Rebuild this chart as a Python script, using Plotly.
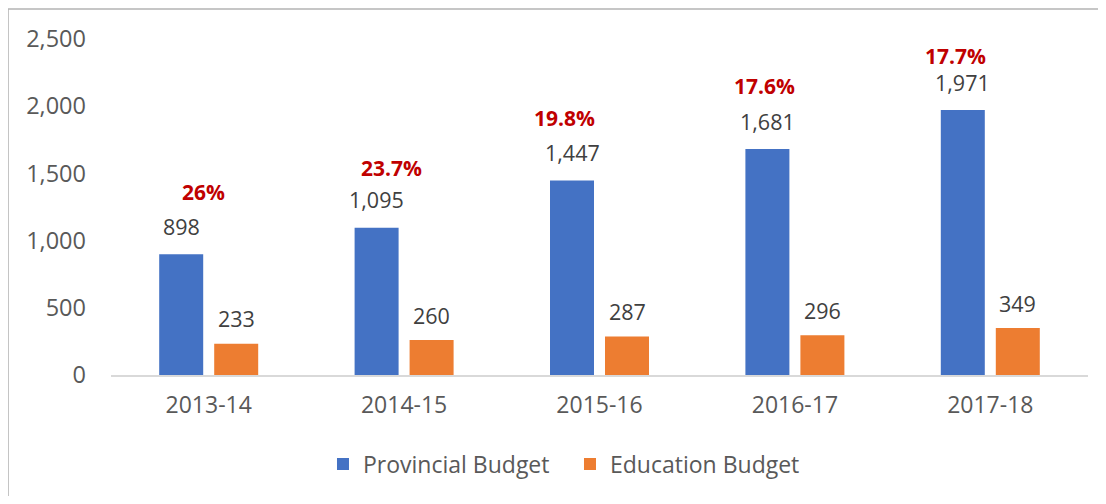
import plotly.graph_objects as go

years = ["2013-14", "2014-15", "2015-16", "2016-17", "2017-18"]
provincial = [898, 1095, 1447, 1681, 1971]
education = [233, 260, 287, 296, 349]
share_labels = ["26%", "23.7%", "19.8%", "17.6%", "17.7%"]

# label placement (style only): pixel offsets of the red share labels
share_dx = [22, 15, -8, -3, -7]
share_dy = [62, 60, 63, 63, 54]

BLUE = "#4472C4"
ORANGE = "#ED7D31"
FONT = "Open Sans"

fig = go.Figure()
fig.add_trace(go.Bar(x=years, y=provincial, name="Provincial Budget",
                     marker=dict(color=BLUE, line=dict(width=0))))
fig.add_trace(go.Bar(x=years, y=education, name="Education Budget",
                     marker=dict(color=ORANGE, line=dict(width=0))))

OFF = 27.5
ann = []
for i, yr in enumerate(years):
    ann.append(dict(x=yr, y=provincial[i], xref="x", yref="y", text=f"{provincial[i]:,}",
                    showarrow=False, xshift=-OFF, yshift=28, yanchor="middle",
                    font=dict(family=FONT, size=21.5, color="#404040")))
    ann.append(dict(x=yr, y=education[i], xref="x", yref="y", text=f"{education[i]:,}",
                    showarrow=False, xshift=OFF, yshift=25, yanchor="middle",
                    font=dict(family=FONT, size=21.5, color="#404040")))
    ann.append(dict(x=yr, y=provincial[i], xref="x", yref="y", text=f"<b>{share_labels[i]}</b>",
                    showarrow=False, xshift=-OFF + share_dx[i], yshift=share_dy[i], yanchor="middle",
                    font=dict(family=FONT, size=21, color="#C00000")))

fig.update_layout(
    width=1090, height=488,
    margin=dict(l=103, r=10, t=31, b=121, pad=0),
    paper_bgcolor="white", plot_bgcolor="white",
    barmode="group", bargap=0.437, bargroupgap=0.2,
    font=dict(family=FONT, size=23, color="#595959"),
    showlegend=True,
    legend=dict(orientation="h", x=0.4698, xanchor="center", y=-0.265, yanchor="middle",
                font=dict(family=FONT, size=23, color="#595959"), itemwidth=30,
                entrywidth=202, tracegroupgap=0, traceorder="normal"),
    annotations=ann,
    shapes=[dict(type="rect", xref="paper", yref="paper", x0=-0.1054, x1=1.2, y0=-0.6, y1=1.0893,
                 line=dict(color="#B4B4B4", width=1.5), layer="below")],
)
fig.update_xaxes(showgrid=False, showline=True, linecolor="#D9D9D9", linewidth=1.5,
                 ticks="", ticklabelstandoff=9, tickfont=dict(family=FONT, size=23, color="#595959"))
fig.update_yaxes(range=[0, 2500], dtick=500, tickformat=",", showgrid=False, zeroline=False,
                 showline=False, ticks="", ticklabelstandoff=24,
                 tickfont=dict(family=FONT, size=23.5, color="#595959"))

fig.write_html("out.html")
